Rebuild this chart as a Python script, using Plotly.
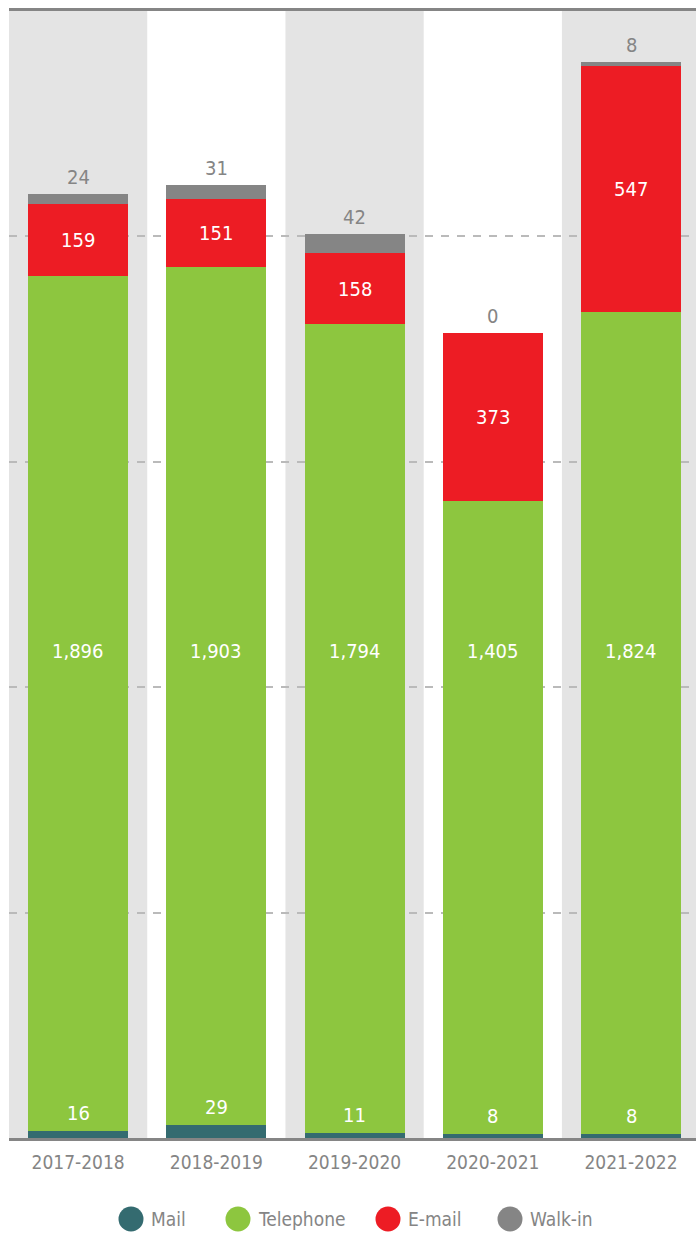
"""Stacked bar chart of enquiries by channel, 2017-2022."""

import plotly.graph_objects as go

YEARS = ["2017-2018", "2018-2019", "2019-2020", "2020-2021", "2021-2022"]
MAIL = [16, 29, 11, 8, 8]
TELEPHONE = [1896, 1903, 1794, 1405, 1824]
EMAIL = [159, 151, 158, 373, 547]
WALK_IN = [24, 31, 42, 0, 8]

SERIES = [
    ("Mail", MAIL, "#346b70"),
    ("Telephone", TELEPHONE, "#8dc63f"),
    ("E-mail", EMAIL, "#ed1c24"),
    ("Walk-in", WALK_IN, "#858585"),
]

FONT = "DejaVu Sans Condensed, Roboto, sans-serif"
GREY = "#858585"
W, H = 696, 1233
M_L, M_R, M_T, M_B = 9, 0, 11, 95
PHONE_LABEL_Y = 1080
LABEL_SIZE = 20

fig = go.Figure()
for name, values, color in SERIES:
    fig.add_trace(
        go.Bar(
            x=YEARS,
            y=values,
            name=name,
            marker={"color": color, "line": {"width": 0}},
            width=0.723,
            showlegend=False,
            hoverinfo="x+y+name",
        )
    )

# alternating background bands
shapes = []
for i in range(0, len(YEARS), 2):
    shapes.append(
        dict(type="rect", xref="x", yref="paper", x0=i - 0.5, x1=i + 0.5, y0=0, y1=1,
             fillcolor="#e4e4e4", line={"width": 0}, layer="below")
    )

annotations = []
for i, year in enumerate(YEARS):
    mail, phone, email, walk = MAIL[i], TELEPHONE[i], EMAIL[i], WALK_IN[i]
    white = {"color": "white", "size": LABEL_SIZE}
    annotations.append(dict(x=year, y=mail, text=f"{mail:,}", yanchor="bottom", yshift=4,
                            showarrow=False, font=white))
    annotations.append(dict(x=year, y=PHONE_LABEL_Y, text=f"{phone:,}", showarrow=False,
                            font=white))
    annotations.append(dict(x=year, y=mail + phone + email / 2, text=f"{email:,}",
                            showarrow=False, font=white))
    annotations.append(dict(x=year, y=mail + phone + email + walk, text=f"{walk:,}",
                            yanchor="bottom", yshift=3, showarrow=False,
                            font={"color": GREY, "size": LABEL_SIZE}))

# legend drawn by hand so the circles can be larger
plot_w = W - M_L - M_R
plot_h = H - M_T - M_B
legend_y = -(1219 - (H - M_B)) / plot_h
for (name, _, color), cx in zip(SERIES, [131, 238, 388, 510]):
    px = (cx - M_L) / plot_w
    shapes.append(
        dict(type="circle", xref="paper", yref="paper", xsizemode="pixel", ysizemode="pixel",
             xanchor=px, yanchor=legend_y, x0=-12.5, x1=12.5, y0=-12.5, y1=12.5,
             fillcolor=color, line={"width": 0})
    )
    annotations.append(
        dict(xref="paper", yref="paper", x=(cx + 18 - M_L) / plot_w, y=legend_y,
             xanchor="left", yanchor="middle", text=name, showarrow=False,
             font={"color": GREY, "size": 19})
    )

fig.update_layout(
    width=W,
    height=H,
    barmode="stack",
    plot_bgcolor="white",
    paper_bgcolor="white",
    font={"family": FONT, "color": GREY},
    margin={"l": M_L, "r": M_R, "t": M_T, "b": M_B, "pad": 0},
    showlegend=False,
    shapes=shapes,
    annotations=annotations,
    xaxis={
        "range": [-0.5, 4.47],
        "showgrid": False,
        "showline": True,
        "mirror": True,
        "linecolor": GREY,
        "linewidth": 3,
        "layer": "below traces",
        "ticks": "",
        "ticklabelstandoff": 5,
        "tickfont": {"size": 19, "color": GREY},
        "fixedrange": True,
    },
    yaxis={
        "range": [0, 2500],
        "dtick": 500,
        "showgrid": True,
        "gridcolor": "#bababa",
        "gridwidth": 2,
        "griddash": "8px,8px",
        "zeroline": False,
        "showticklabels": False,
        "fixedrange": True,
    },
)

# the page's default body margin would push the figure 8px off
fig.write_html(
    "out.html",
    config={"displayModeBar": False},
    post_script="document.body.style.margin = '0';",
)
